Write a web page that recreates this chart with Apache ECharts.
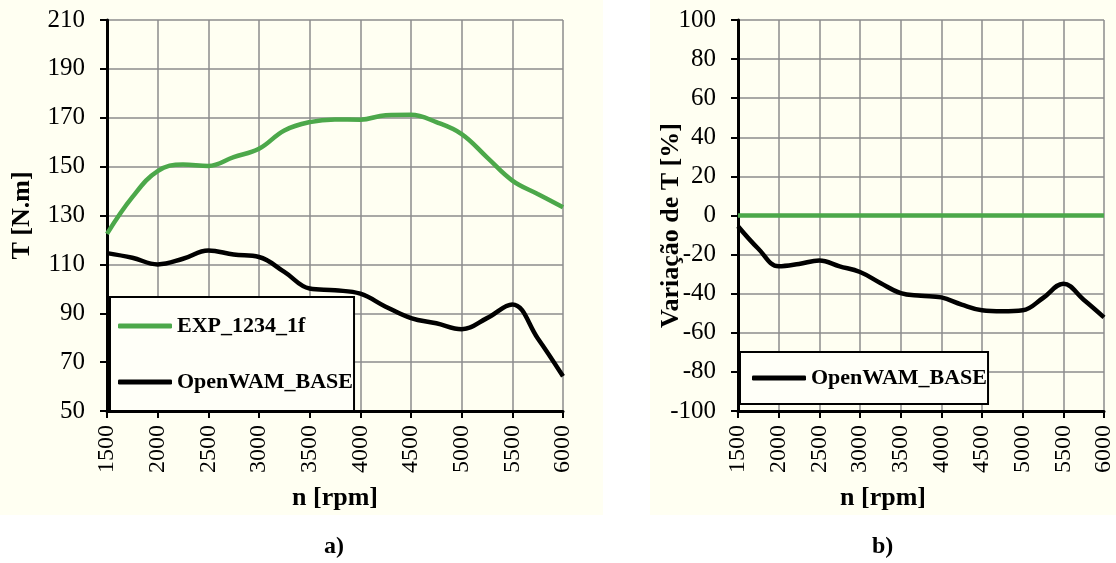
<!DOCTYPE html>
<html>
<head>
<meta charset="utf-8">
<script src="https://cdn.jsdelivr.net/npm/echarts@6/dist/echarts.min.js"></script>
<style>
  html, body { margin: 0; padding: 0; background: #ffffff; }
  #wrap { position: relative; width: 1116px; height: 563px; }
  .panel { position: absolute; top: 0; height: 515px; background: #fffff2; }
  #chart { position: absolute; left: 0; top: 0; width: 1116px; height: 563px; }
</style>
</head>
<body>
<div id="wrap">
  <div class="panel" style="left:0; width:603px;"></div>
  <div class="panel" style="left:650px; width:466px;"></div>
  <div id="chart"></div>
</div>
<script>
// Engine speed sweep [rpm]
const rpm = [1500, 1750, 2000, 2250, 2500, 2750, 3000, 3250, 3500, 3750,
             4000, 4250, 4500, 4750, 5000, 5250, 5500, 5750, 6000];

// Torque [N.m]
const expTorque  = [122.5, 137.5, 148.2, 150.9, 150.3, 153.9, 157.3, 164.8, 168.2, 169.3,
                    169.2, 171.0, 171.2, 168.2, 163.3, 153.8, 144.3, 138.8, 133.4];
const baseTorque = [114.6, 112.7, 110.0, 112.3, 115.7, 114.0, 113.0, 106.9, 100.1, 99.4,
                    98.0, 92.7, 88.0, 85.9, 83.5, 88.0, 93.6, 79.8, 64.2];

// Torque variation relative to the experiment [%]
const expVariation  = [0, 0, 0, 0, 0, 0, 0, 0, 0, 0, 0, 0, 0, 0, 0, 0, 0, 0, 0];
const baseVariation = [-5.5, -17.0, -26.0, -24.8, -23.0, -26.0, -28.9, -34.5, -39.7, -41.0,
                       -41.9, -45.6, -48.5, -49.0, -48.5, -42.2, -34.9, -43.1, -52.1];

const seriesNames = ['EXP_1234_1f', 'OpenWAM_BASE'];
const captions = ['a)', 'b)'];

const FONT = 'Liberation Serif';
const GREEN = '#4ca84a';
const BLACK = '#000000';
const GRIDLINE = '#8c8c8c';

const pairs = (xs, ys) => xs.map((x, i) => [x, ys[i]]);

function xAxisFor(gridIndex, namePadding) {
  return {
    type: 'value', gridIndex, min: 1500, max: 6000, interval: 500,
    name: 'n [rpm]', nameLocation: 'middle', nameGap: 74, nameMoveOverlap: false,
    nameTextStyle: { fontFamily: FONT, fontSize: 26, fontWeight: 'bold', color: '#000', padding: namePadding },
    axisLine: { show: true, onZero: false, lineStyle: { color: BLACK, width: 3 } },
    axisTick: { show: true, length: 7, lineStyle: { color: BLACK, width: 2 } },
    axisLabel: { rotate: 90, margin: 14, fontFamily: FONT, fontSize: 24, color: '#000',
                 formatter: v => String(v) },
    splitLine: { show: true, lineStyle: { color: GRIDLINE, width: 1.5 } }
  };
}

function yAxisFor(gridIndex, min, max, interval, name, nameGap, namePadding) {
  return {
    type: 'value', gridIndex, min, max, interval,
    name, nameLocation: 'middle', nameGap, nameMoveOverlap: false,
    nameTextStyle: { fontFamily: FONT, fontSize: 26, fontWeight: 'bold', color: '#000', padding: namePadding },
    axisLine: { show: true, onZero: false, lineStyle: { color: BLACK, width: 3 } },
    axisTick: { show: true, length: 7, lineStyle: { color: BLACK, width: 2 } },
    axisLabel: { margin: 22, fontFamily: FONT, fontSize: 25, color: '#000',
                 formatter: v => String(v) },
    splitLine: { show: true, lineStyle: { color: GRIDLINE, width: 1.5 } }
  };
}

function lineSeries(name, color, xi, yi, data) {
  return {
    name, type: 'line', xAxisIndex: xi, yAxisIndex: yi,
    data, smooth: 0.4, showSymbol: false, symbol: 'none',
    lineStyle: { color, width: 4.5 }, itemStyle: { color },
    animation: false
  };
}

const legendText = { fontFamily: FONT, fontSize: 22, fontWeight: 'bold', color: '#000' };

const chart = echarts.init(document.getElementById('chart'), null, { renderer: 'canvas' });
chart.setOption({
  animation: false,
  grid: [
    { left: 107, right: 553, top: 20, bottom: 152 },
    { left: 738, right: 10, top: 20, bottom: 152 }
  ],
  xAxis: [ xAxisFor(0, [0, 0, 0, 0]), xAxisFor(1, [0, 76, 0, 0]) ],
  yAxis: [
    yAxisFor(0, 50, 210, 20, 'T [N.m]', 72, [0, 0, 0, 0]),
    yAxisFor(1, -100, 100, 20, 'Variação de T [%]', 54, [0, 20, 0, 0])
  ],
  legend: [
    {
      data: seriesNames, orient: 'vertical', left: 110, top: 297,
      icon: 'roundRect', itemWidth: 54, itemHeight: 5, itemGap: 34,
      padding: [18, 1, 18, 8],
      borderColor: '#000', borderWidth: 2, backgroundColor: '#fffff8',
      textStyle: legendText, selectedMode: false
    },
    {
      data: [seriesNames[1]], orient: 'vertical', left: 740, top: 352,
      icon: 'roundRect', itemWidth: 54, itemHeight: 5,
      padding: [15, 1, 15, 12],
      borderColor: '#000', borderWidth: 2, backgroundColor: '#fffff8',
      textStyle: legendText, selectedMode: false
    }
  ],
  graphic: captions.map((t, i) => ({
    type: 'text', left: i === 0 ? 324 : 872, top: 535,
    style: { text: t, font: 'bold 24px "' + FONT + '"', fill: '#000' }
  })),
  series: [
    lineSeries(seriesNames[0], GREEN, 0, 0, pairs(rpm, expTorque)),
    lineSeries(seriesNames[1], BLACK, 0, 0, pairs(rpm, baseTorque)),
    lineSeries(seriesNames[0], GREEN, 1, 1, pairs(rpm, expVariation)),
    lineSeries(seriesNames[1], BLACK, 1, 1, pairs(rpm, baseVariation))
  ]
});
</script>
</body>
</html>
